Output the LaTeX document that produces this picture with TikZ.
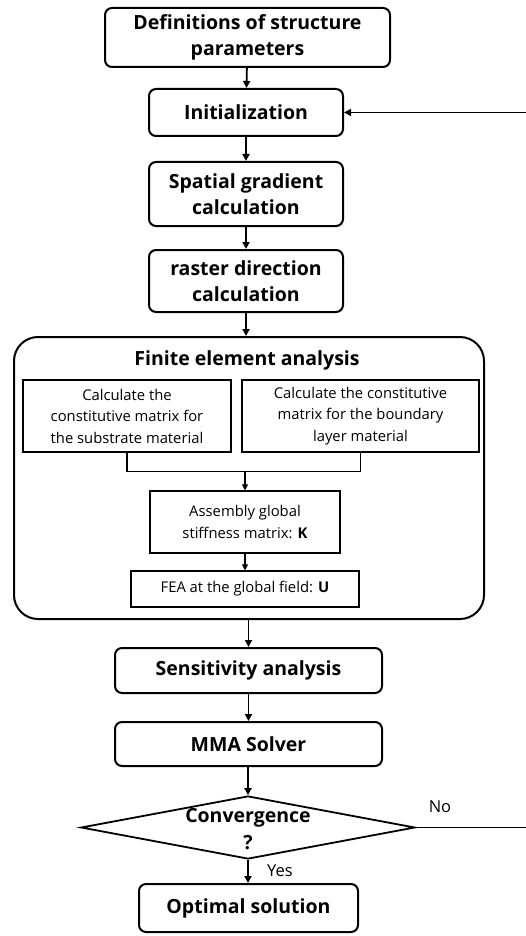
\documentclass[tikz,border=0pt]{standalone}
\usepackage{fontspec}
\setmainfont{Open Sans}
\usetikzlibrary{shapes.geometric,arrows.meta}
\begin{document}
\begin{tikzpicture}[x=1pt,y=-1pt,
  mainbox/.style={draw,line width=2pt,rounded corners=7pt,align=center,inner sep=0pt,
     font=\fontsize{19.5}{26.5}\selectfont\bfseries},
  subbox/.style={draw,line width=1.2pt,align=center,inner sep=0pt,
     font=\fontsize{14.8}{21.5}\selectfont},
  arr/.style={-{Triangle[length=7pt,width=7pt]},line width=1.8pt},
  thin arr/.style={-{Triangle[length=6pt,width=6pt]},line width=1.2pt},
  lab/.style={font=\fontsize{16.5}{18}\selectfont}]
\clip (0,0) rectangle (526,936);
\fill[white] (0,0) rectangle (526,936);
% main column
\node[mainbox,minimum width=285pt,minimum height=59pt] (defs) at (247.5,37.5) {Definitions of structure\\parameters};
\node[mainbox,minimum width=194pt,minimum height=47pt] (init) at (246,112.5) {Initialization};
\node[mainbox,minimum width=194pt,minimum height=64pt] (spat) at (246,194) {Spatial gradient\\calculation};
\node[mainbox,minimum width=194pt,minimum height=62pt] (rast) at (246,281) {raster direction\\calculation};
% FEA group
\node[draw,line width=2pt,rounded corners=24pt,minimum width=470pt,minimum height=282pt,inner sep=0pt] (fea) at (249,478) {};
\node[font=\fontsize{19.5}{20}\selectfont\bfseries] (featitle) at (247,360) {Finite element analysis};
\node[subbox,minimum width=208pt,minimum height=72pt] (subs) at (127,416) {Calculate the\\constitutive matrix for\\the substrate material};
\node[subbox,minimum width=237pt,minimum height=72pt] (bnd) at (360.5,416) {Calculate the constitutive\\matrix for the boundary\\layer material};
\node[subbox,minimum width=190pt,minimum height=62pt] (asm) at (245,522) {Assembly global\\stiffness matrix: \textbf{K}};
\node[subbox,minimum width=228pt,minimum height=36pt] (glob) at (245,589) {FEA at the global field: \textbf{U}};
\coordinate (join) at (245,471.5);
% lower column
\node[mainbox,minimum width=267pt,minimum height=45pt] (sens) at (248.5,670.5) {Sensitivity analysis};
\node[mainbox,minimum width=267pt,minimum height=44pt] (mma) at (248.5,744) {MMA Solver};
\node[draw,diamond,line width=1.8pt,minimum width=334pt,minimum height=63pt,inner sep=0pt,aspect=5.3] (conv) at (248,827.5) {};
\node[align=center,font=\fontsize{19.5}{27}\selectfont\bfseries] (convtext) at (248,829) {Convergence\\?};
\node[mainbox,minimum width=219pt,minimum height=48pt] (opt) at (248.5,908) {Optimal solution};
\node[lab] (yes) at (280,871) {Yes};
\node[lab] (no) at (440,807) {No};
\coordinate (fbbot) at (545,827.5);
% connectors
\draw[arr] (defs) -- (init);
\draw[arr] (init) -- (spat);
\draw[arr] (spat) -- (rast);
\draw[arr] (rast.south) -- (rast.south |- fea.north);
\draw[line width=1.2pt] (subs.south) |- (join) -| (bnd.south);
\draw[thin arr] (join) -- (asm.north);
\draw[thin arr] (asm) -- (glob);
\draw[arr] (fea.south -| sens.north) -- (sens.north);
\draw[arr] (sens) -- (mma);
\draw[arr] (mma.south -| conv.north) -- (conv.north);
\draw[arr] (conv.south) -- (conv.south |- opt.north);
\draw[arr] (conv.east) -- (fbbot) |- (init.east);
\end{tikzpicture}
\end{document}
